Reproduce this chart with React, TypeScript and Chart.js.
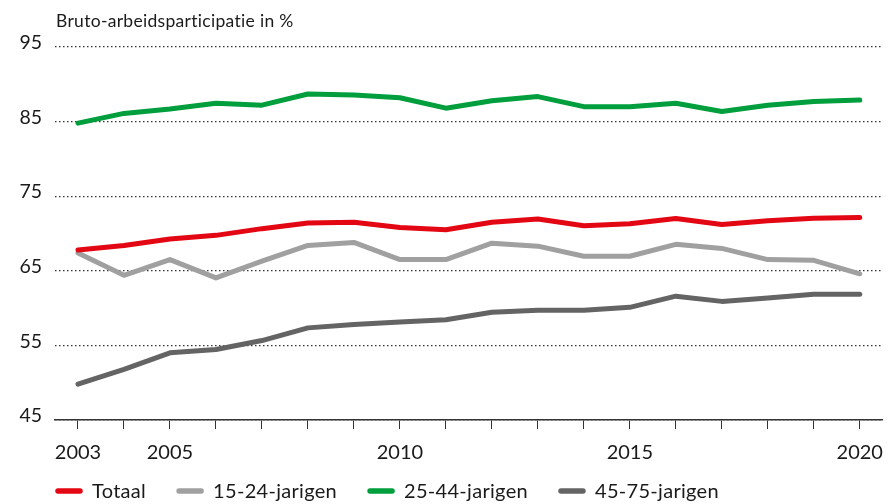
import React, { useEffect, useRef } from "react";
import { Chart, registerables } from "chart.js";

Chart.register(...registerables);

const years = ["2003","2004","2005","2006","2007","2008","2009","2010","2011","2012","2013","2014","2015","2016","2017","2018","2019","2020"];
const shownYears = ["2003","2005","2010","2015","2020"];
const totaal = [67.8,68.4,69.25,69.75,70.65,71.4,71.5,70.8,70.5,71.5,71.95,71.05,71.3,72.0,71.2,71.7,72.05,72.15];
const jong = [67.4,64.4,66.5,64.05,66.3,68.4,68.8,66.5,66.5,68.7,68.3,66.95,66.95,68.55,68.0,66.5,66.4,64.6];
const midden = [84.8,86.1,86.7,87.45,87.2,88.7,88.57,88.2,86.8,87.8,88.35,87.0,87.0,87.45,86.35,87.2,87.7,87.9];
const ouder = [49.8,51.8,54.0,54.45,55.65,57.35,57.8,58.15,58.45,59.45,59.7,59.7,60.1,61.6,60.9,61.35,61.85,61.85];
const seriesLabels = ["Totaal","15-24-jarigen","25-44-jarigen","45-75-jarigen"];
const seriesColors = ["#e30613","#a0a0a0","#009e3d","#646464"];
const yTicks = [45,55,65,75,85,95];
const titleText = "Bruto-arbeidsparticipatie in %";

const FONT = "Lato, sans-serif";

export default function App() {
  const ref = useRef<HTMLCanvasElement | null>(null);
  useEffect(() => {
    document.body.style.margin = "0";
    const ctx = ref.current!.getContext("2d")!;
    const extras = {
      id: "extras",
      afterDraw(chart: any) {
        const c = chart.ctx;
        const area = chart.chartArea;
        c.save();
        c.fillStyle = "#1a1a1a";
        c.font = "17.5px " + FONT;
        (c as any).letterSpacing = "0.3px";
        c.textBaseline = "middle";
        c.textAlign = "left";
        c.fillText(titleText, area.left + 1, 21);
        // legend
        c.font = "20px " + FONT;
        (c as any).letterSpacing = "0.3px";
        let x = area.left;
        const y = 491;
        seriesLabels.forEach((lab, i) => {
          c.strokeStyle = seriesColors[i];
          c.lineWidth = 5.5;
          c.lineCap = "round";
          c.beginPath();
          c.moveTo(x + 3, y);
          c.lineTo(x + 25, y);
          c.stroke();
          c.fillStyle = "#1a1a1a";
          c.fillText(lab, x + 37, y + 1);
          const w = c.measureText(lab).width;
          x += 37 + w + 30;
        });
        c.restore();
      },
    };
    const chart = new Chart(ctx, {
      type: "line",
      data: {
        labels: years,
        datasets: [totaal, jong, midden, ouder].map((d, i) => ({
          label: seriesLabels[i],
          data: d,
          borderColor: seriesColors[i],
          backgroundColor: seriesColors[i],
          borderWidth: 5,
          pointRadius: 0,
          tension: 0,
          borderCapStyle: "round",
          borderJoinStyle: "round",
        })),
      },
      options: {
        animation: false,
        responsive: false,
        layout: { padding: { top: 47, right: 1, left: 0, bottom: 0 } },
        plugins: { legend: { display: false }, tooltip: { enabled: false }, title: { display: false } },
        scales: {
          x: {
            offset: true,
            grid: { offset: false, drawOnChartArea: false, drawTicks: true, tickLength: 9, color: "#333", lineWidth: 1 },
            border: { display: true, color: "#333", width: 1.5 },
            ticks: {
              autoSkip: false,
              maxRotation: 0,
              padding: 12,
              color: "#1a1a1a",
              font: { family: FONT, size: 20 },
              callback: (v: any, i: number) => (shownYears.includes(years[i]) ? years[i] : ""),
            },
            afterFit: (s: any) => { s.height = 84; },
          },
          y: {
            min: 45,
            max: 95,
            afterBuildTicks: (s: any) => { s.ticks = yTicks.map((v) => ({ value: v })); },
            grid: { drawTicks: false, color: "#333", lineWidth: 1.2 },
            border: { display: false, dash: [1.5, 2.5] },
            ticks: { padding: 13, labelOffset: -4, color: "#1a1a1a", font: { family: FONT, size: 19.5 } },
            afterFit: (s: any) => { s.width = 55; },
          },
        },
      },
      plugins: [extras],
    } as any);
    return () => chart.destroy();
  }, []);
  return (
    <div style={{ width: 895, height: 504 }}>
      <canvas ref={ref} width={895} height={504} style={{ display: "block" }} />
    </div>
  );
}
